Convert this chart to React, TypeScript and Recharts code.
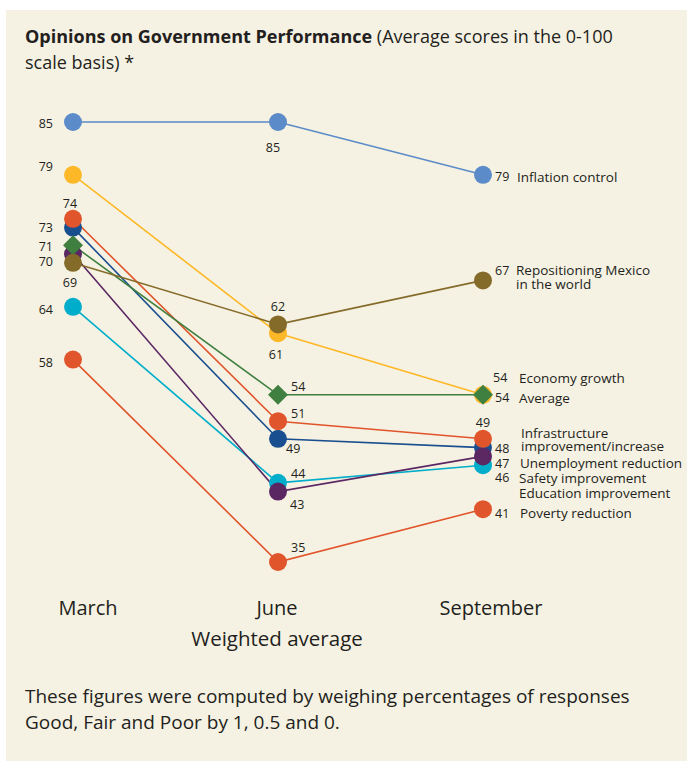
import { LineChart, Line, XAxis, YAxis, LabelList } from 'recharts';

// categories
const months = ['March', 'June', 'September'];

// series values (March, June, September)
const inflationControl = [85, 85, 79];
const economyGrowth = [79, 61, 54];
const infrastructure = [74, 51, 49];
const education = [73, 49, 48];
const average = [71, 54, 54];
const unemployment = [70, 43, 47];
const repositioning = [69, 62, 67];
const safety = [64, 44, 46];
const poverty = [58, 35, 41];

const FONT = '"Open Sans", "Noto Sans", sans-serif';
const TEXT = '#231f20';

type Off = [number, number, 'start' | 'middle' | 'end'];

interface SeriesDef {
  key: string;
  values: number[];
  color: string;
  diamond?: boolean;
  valueOffsets: Off[];
  nameLines: string[];
  nameOffset: [number, number];
}

// drawn bottom -> top
const series: SeriesDef[] = [
  {
    key: 'safety', values: safety, color: '#00aecb',
    valueOffsets: [[-20, 3, 'end'], [13, -9, 'start'], [12, 12, 'start']],
    nameLines: ['Safety improvement'], nameOffset: [36, 13],
  },
  {
    key: 'education', values: education, color: '#1a4f8f',
    valueOffsets: [[-20, 0, 'end'], [8, 10, 'start'], [12, 1, 'start']],
    nameLines: ['Education improvement'], nameOffset: [36, 45],
  },
  {
    key: 'unemployment', values: unemployment, color: '#5a2763',
    valueOffsets: [[-20, 7, 'end'], [12, 13, 'start'], [12, 7, 'start']],
    nameLines: ['Unemployment reduction'], nameOffset: [37, 7],
  },
  {
    key: 'infrastructure', values: infrastructure, color: '#e0552b',
    valueOffsets: [[-3, -15, 'middle'], [13, -8, 'start'], [0, -16, 'middle']],
    nameLines: ['Infrastructure', 'improvement/increase'], nameOffset: [38, -6],
  },
  {
    key: 'economy', values: economyGrowth, color: '#fcb827',
    valueOffsets: [[-20, -8, 'end'], [-2, 21, 'middle'], [10, -17, 'start']],
    nameLines: ['Economy growth'], nameOffset: [36, -17],
  },
  {
    key: 'average', values: average, color: '#3f7f3f', diamond: true,
    valueOffsets: [[-20, 1, 'end'], [13, -8, 'start'], [12, 3, 'start']],
    nameLines: ['Average'], nameOffset: [36, 3],
  },
  {
    key: 'repositioning', values: repositioning, color: '#856b2a',
    valueOffsets: [[-3, 20, 'middle'], [0, -18, 'middle'], [12, -10, 'start']],
    nameLines: ['Repositioning Mexico', 'in the world'], nameOffset: [33, -10],
  },
  {
    key: 'inflation', values: inflationControl, color: '#5b8bc8',
    valueOffsets: [[-20, 1, 'end'], [-5, 25, 'middle'], [12, 2, 'start']],
    nameLines: ['Inflation control'], nameOffset: [34, 2],
  },
  {
    key: 'poverty', values: poverty, color: '#e0552b',
    valueOffsets: [[-20, 3, 'end'], [13, -15, 'start'], [12, 4, 'start']],
    nameLines: ['Poverty reduction'], nameOffset: [37, 4],
  },
];

const data = months.map((m, i) => {
  const row: Record<string, string | number> = { month: m };
  series.forEach((s) => { row[s.key] = s.values[i]; });
  return row;
});

const tickShift = [15, -1, 8];

function MonthTick(props: any) {
  const { x, y, payload, index } = props;
  return (
    <text x={x + tickShift[index]} y={y + 45} textAnchor="middle" dominantBaseline="central"
      fontFamily={FONT} fontSize={20} fill={TEXT}>
      {payload.value}
    </text>
  );
}

function Diamond(props: any) {
  const { cx, cy, fill } = props;
  if (cx == null || cy == null) return null;
  const h = 10;
  return <path d={`M${cx},${cy - h}L${cx + h},${cy}L${cx},${cy + h}L${cx - h},${cy}Z`} fill={fill} />;
}

function makeLabel(s: SeriesDef) {
  return (props: any) => {
    const { x, y, index, value } = props;
    const [dx, dy, anchor] = s.valueOffsets[index];
    return (
      <g>
        <text x={x + dx} y={y + dy} textAnchor={anchor} dominantBaseline="central"
          fontFamily={FONT} fontSize={12.5} fill={TEXT}>
          {value}
        </text>
        {index === months.length - 1 && s.nameLines.map((line, li) => (
          <text key={li} x={x + s.nameOffset[0]} y={y + s.nameOffset[1] + li * 13.5}
            dominantBaseline="central" fontFamily={FONT} fontSize={13.5} fill={TEXT}>
            {line}
          </text>
        ))}
      </g>
    );
  };
}

export default function App() {
  return (
    <div style={{ position: 'absolute', left: 0, top: 0, width: 687, height: 761, background: '#fff', fontFamily: FONT }}>
      <div style={{ position: 'absolute', left: 6, top: 10, width: 681, height: 751, background: '#f6f2e3' }} />
      <div style={{ position: 'absolute', left: 25, top: 23, width: 650, fontSize: 18, lineHeight: '26px', color: TEXT }}>
        <b>Opinions on Government Performance</b> (Average scores in the 0-100<br />scale basis) *
      </div>
      <div style={{ position: 'absolute', left: 0, top: 0 }}>
        <LineChart width={687} height={640} data={data} margin={{ top: 122, right: 204, bottom: 0, left: 73 }}>
          <XAxis dataKey="month" axisLine={false} tickLine={false} tickSize={0} tickMargin={0}
            height={78} tick={<MonthTick />} interval={0} />
          <YAxis hide domain={[35, 85]} type="number" />
          {series.map((s) => (
            <Line key={s.key} dataKey={s.key} stroke={s.color} strokeWidth={1.6}
              isAnimationActive={false}
              dot={s.diamond ? <Diamond fill={s.color} /> : { r: 9, fill: s.color, stroke: 'none' }}
              activeDot={false}>
              <LabelList dataKey={s.key} content={makeLabel(s)} />
            </Line>
          ))}
        </LineChart>
      </div>
      <div style={{ position: 'absolute', left: 0, width: 554, top: 624, textAlign: 'center', fontSize: 20.5, color: TEXT }}>
        Weighted average
      </div>
      <div style={{ position: 'absolute', left: 25, top: 683, width: 660, fontSize: 19, lineHeight: '26px', color: TEXT }}>
        These figures were computed by weighing percentages of responses<br />
        Good, Fair and Poor by 1, 0.5 and 0.
      </div>
    </div>
  );
}
